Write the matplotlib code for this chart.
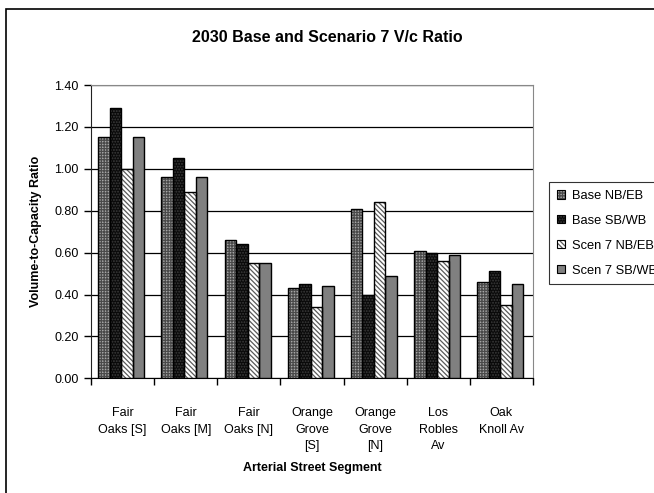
import numpy as np
import matplotlib
matplotlib.use("Agg")
import matplotlib.pyplot as plt
from matplotlib.patches import Patch, Rectangle

plt.rcParams['font.family'] = ['Liberation Sans', 'DejaVu Sans']
plt.rcParams['hatch.linewidth'] = 0.9

segments = ["Fair\nOaks [S]", "Fair\nOaks [M]", "Fair\nOaks [N]",
            "Orange\nGrove\n[S]", "Orange\nGrove\n[N]", "Los\nRobles\nAv",
            "Oak\nKnoll Av"]
series_names = ["Base NB/EB", "Base SB/WB", "Scen 7 NB/EB", "Scen 7 SB/WB"]
base_nb = [1.15, 0.96, 0.66, 0.43, 0.81, 0.61, 0.46]
base_sb = [1.29, 1.05, 0.64, 0.45, 0.40, 0.60, 0.51]
scen_nb = [1.00, 0.89, 0.55, 0.34, 0.84, 0.56, 0.35]
scen_sb = [1.15, 0.96, 0.55, 0.44, 0.49, 0.59, 0.45]
yticks = [0.0, 0.2, 0.4, 0.6, 0.8, 1.0, 1.2, 1.4]

# face colour, hatch colour, hatch pattern for each series
styles = [
    ("#a6a6a6", "#4a4a4a", "++++++"),
    ("#0a0a0a", "#3c3c3c", "......"),
    ("#ffffff", "#5a5a5a", "\\\\\\\\\\\\\\"),
    ("#808080", "#808080", None),
]

fig = plt.figure(figsize=(6.54, 4.93), dpi=100)
ax = fig.add_axes([91 / 654, 1 - 378.3 / 493, 442 / 654, 293.3 / 493])

x = np.arange(len(segments))
width = 0.182
values = [base_nb, base_sb, scen_nb, scen_sb]
handles = []
for i, (vals, name, (fc, hc, hatch)) in enumerate(zip(values, series_names, styles)):
    pos = x + (i - 1.5) * width - 0.02
    ax.bar(pos, vals, width, color=fc, edgecolor=hc, hatch=hatch, linewidth=0, zorder=3)
    ax.bar(pos, vals, width, fill=False, edgecolor="black", linewidth=1.0, zorder=4)
    fill = Patch(facecolor=fc, edgecolor=hc, hatch=hatch, linewidth=0)
    outline = Patch(fill=False, edgecolor="black", linewidth=0.8)
    handles.append((fill, outline))

ax.set_xlim(-0.5, len(segments) - 0.5)
ax.set_ylim(0, 1.4)
ax.set_yticks(yticks)
ax.set_yticklabels([f"{v:.2f}" for v in yticks], fontsize=9)
ax.set_xticks(x)
ax.set_xticklabels(segments, fontsize=9, linespacing=1.45)
ax.set_xticks(np.arange(len(segments) + 1) - 0.5, minor=True)
ax.tick_params(axis="x", which="major", length=0, pad=21)
ax.tick_params(axis="x", which="minor", length=5, width=1, direction="out")
ax.tick_params(axis="y", length=5, width=1, direction="out", pad=4)

ax.grid(axis="y", color="black", linewidth=0.9, zorder=1)
for side in ("top", "right"):
    ax.spines[side].set_color("#888888")
ax.spines["left"].set_color("#222222")
ax.spines["bottom"].set_color("black")

ax.set_ylabel("Volume-to-Capacity Ratio", fontsize=9, fontweight="bold")
ax.yaxis.set_label_coords(-0.11, 0.5)
ax.set_xlabel("Arterial Street Segment", fontsize=9, fontweight="bold")
ax.xaxis.set_label_coords(0.5, -0.285)

fig.text(0.5, 1 - 38 / 493, "2030 Base and Scenario 7 V/c Ratio",
         ha="center", va="center", fontsize=11.5, fontweight="bold")

# legend runs past the right edge of the chart, as in the original layout
leg = fig.legend(handles=handles, labels=series_names, loc="upper left",
                 bbox_to_anchor=(549 / 654, 1 - 182 / 493),
                 fontsize=9.3, frameon=True, fancybox=False,
                 handlelength=0.65, handleheight=0.65, handletextpad=0.5,
                 labelspacing=1.0, borderpad=0.6, borderaxespad=0)
leg.get_frame().set_edgecolor("black")
leg.get_frame().set_linewidth(0.8)
leg.set_zorder(5)

# outer chart border
fig.patches.append(Rectangle((6 / 654, -0.05), 1.1, 1 - 9.5 / 493 + 0.05,
                             transform=fig.transFigure, fill=False,
                             edgecolor="black", linewidth=1.2, zorder=0))

fig.savefig("out.png", dpi=100)
